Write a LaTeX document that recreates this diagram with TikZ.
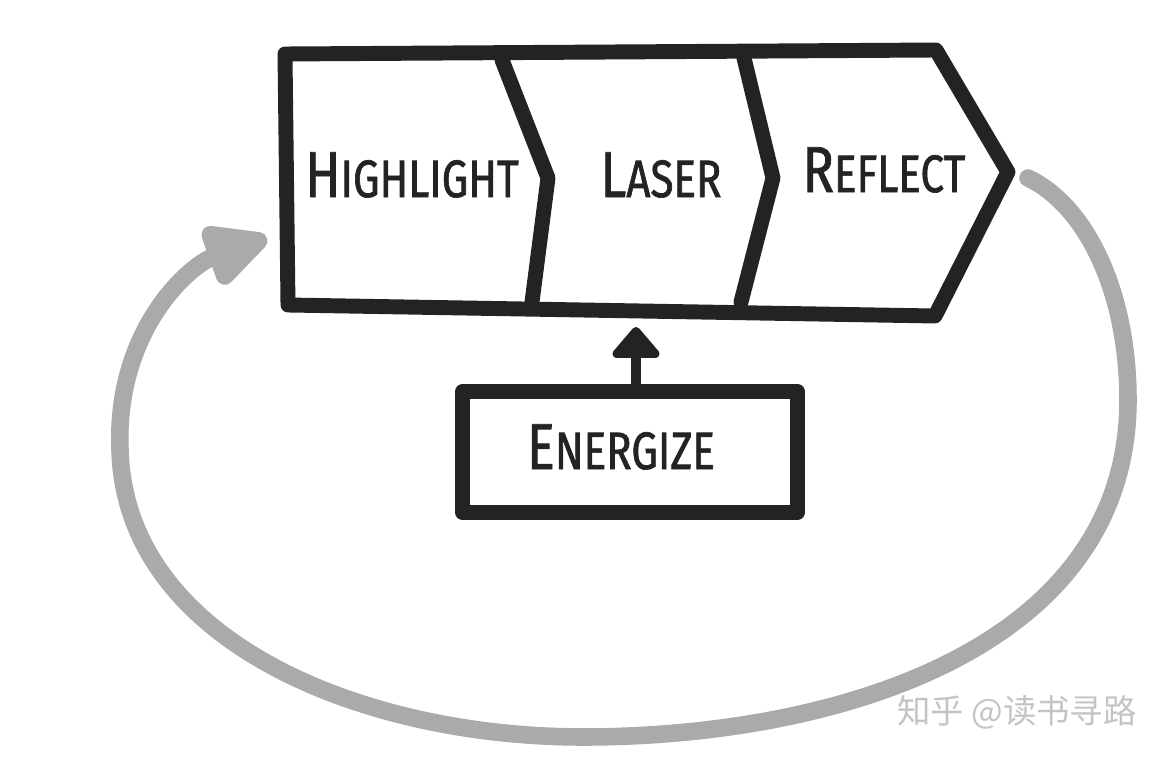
\documentclass[tikz,border=0pt]{standalone}
\usepackage{fontspec}
\newfontfamily\handfont[FakeStretch=0.8, FakeBold=1.2]{Fira Sans}
\newfontfamily\cjkfont{Noto Sans CJK SC}
\usetikzlibrary{arrows.meta}

\definecolor{marker}{HTML}{232323}
\definecolor{loopgray}{HTML}{AAAAAA}
\definecolor{markgray}{HTML}{C4C4C4}

% first letter drawn a bit taller
\newcommand{\firstbig}[2]{{\fontsize{37}{37}\selectfont #1}#2}

\tikzset{
    outline/.style={draw=marker, line width=8.5pt, line join=round, line cap=round},
    stagelabel/.style={text=marker, inner sep=0pt,
        font=\handfont\fontsize{30}{30}\selectfont},
    pushbox/.style={outline, minimum width=6.7cm, minimum height=2.42cm, inner sep=0pt},
    pusharrow/.style={draw=marker, line width=5.7pt,
        -{Triangle[length=19pt, width=31pt, round]}},
    loopback/.style={draw=loopgray, line width=10pt, line cap=round,
        -{Triangle[length=42pt, width=38pt, round]}}
}

\begin{document}
\begin{tikzpicture}[x=0.02cm, y=-0.02cm]
    \useasboundingbox[fill=white] (0,0) rectangle (1174,760);

    % Outer chevron
    \draw[outline] (285,54) -- (936,50) -- (1008,172) -- (935,316) -- (288,305) -- cycle;

    % Dividers between the stages
    \draw[outline] (502,60) -- (548,178) -- (532,302);
    \draw[outline] (744,58) -- (773,178) -- (741,302);

    % Stage labels
    \node[stagelabel] (highlight) at (412,175) {\firstbig{H}{IGHLIGHT}};
    \node[stagelabel] (laser) at (661,175) {\firstbig{L}{ASER}};
    \node[stagelabel] (reflect) at (884,170) {\firstbig{R}{EFLECT}};

    % Energize box and its arrow
    \node[pushbox] (energize) at (630,452) {};
    \node[stagelabel] (energizetext) at (621,447) {\firstbig{E}{NERGIZE}};
    \coordinate (stagebase) at (636,327);
    \draw[pusharrow] (stagebase |- energize.north) -- (stagebase);

    % Gray loop back to the start
    \coordinate (loopstart) at (1028,178);
    \coordinate (loopend) at (267,238);
    \draw[loopback] (loopstart) .. controls (1085,205) and (1128,290) .. (1128,400)
        .. controls (1128,650) and (834,737) .. (583,737)
        .. controls (360,737) and (125,640) .. (120,450)
        .. controls (115,330) and (190,265) .. (loopend);

    % Watermark
    \node[text=markgray, font=\cjkfont\fontsize{19}{19}\selectfont] (mark) at (1017,712) {知乎 @读书寻路};
\end{tikzpicture}
\end{document}
